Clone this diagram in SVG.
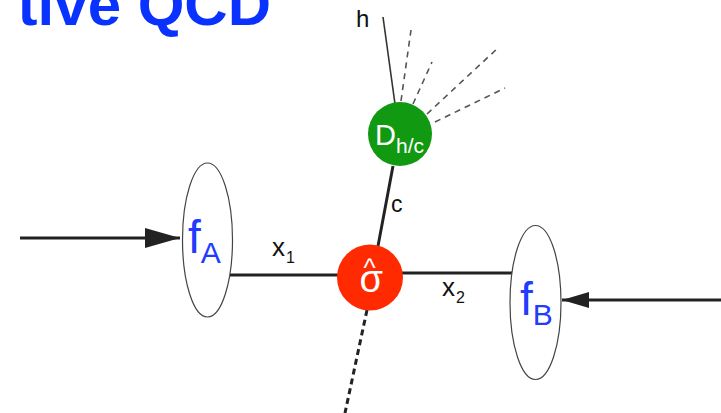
<svg xmlns="http://www.w3.org/2000/svg" width="721" height="413" viewBox="0 0 721 413">
<style>
.t{font-family:"Liberation Sans",Arial,sans-serif}
.lbl{fill:#111}
.pdf{fill:#1f3cff}
.ell{fill:#fff;stroke:#444;stroke-width:1.2}
.prop{stroke:#222;stroke-width:3;fill:none}
.frag{stroke:#555;stroke-width:1.6;stroke-dasharray:6 5;fill:none}
</style>
<defs>
<marker id="ahL" markerUnits="userSpaceOnUse" markerWidth="36" markerHeight="20" refX="35" refY="10" orient="auto"><path d="M0,0 L35,10 L0,20 z" fill="#222"/></marker>
<marker id="ahR" markerUnits="userSpaceOnUse" markerWidth="28" markerHeight="16" refX="27" refY="8" orient="auto"><path d="M0,0 L27,8 L0,16 z" fill="#222"/></marker>
</defs>
<rect width="721" height="413" fill="#fff"/>
<text class="t" x="271" y="25" text-anchor="end" font-size="60" font-weight="bold" fill="#0a32ff">tive QCD</text>

<g id="connectors">
<line class="prop" x1="20" y1="238" x2="180" y2="238" stroke-width="4" marker-end="url(#ahL)"/>
<line class="prop" x1="721" y1="300" x2="562" y2="300" stroke-width="4" marker-end="url(#ahR)"/>
<line class="prop" x1="229" y1="275" x2="338" y2="275"/>
<line class="prop" x1="402" y1="273" x2="512" y2="273"/>
<line class="prop" x1="378" y1="246" x2="393" y2="166" stroke-width="2.5"/>
<line class="prop" x1="367" y1="310" x2="345" y2="413" stroke-dasharray="6 4"/>
<line x1="383" y1="17" x2="395" y2="104" stroke="#333" stroke-width="1.6"/>
<line class="frag" x1="401" y1="101" x2="411" y2="30"/>
<line class="frag" x1="413" y1="104" x2="432" y2="62"/>
<line class="frag" x1="427" y1="114" x2="499" y2="47"/>
<line class="frag" x1="435" y1="122" x2="505" y2="88"/>
<text class="t lbl" x="272" y="256" font-size="26">x<tspan font-size="16" dx="1" dy="7">1</tspan></text>
<text class="t lbl" x="442" y="296" font-size="26">x<tspan font-size="16" dx="1" dy="7">2</tspan></text>
<text class="t lbl" x="391" y="212" font-size="23">c</text>
<text class="t lbl" x="356" y="27" font-size="24">h</text>
</g>

<g id="fA">
<ellipse class="ell" cx="207.5" cy="240" rx="25" ry="77"/>
<text class="t pdf" x="188" y="253" font-size="46">f<tspan font-size="30" dx="0" dy="10">A</tspan></text>
</g>

<g id="fB">
<ellipse class="ell" cx="535.5" cy="302.5" rx="25.5" ry="77"/>
<text class="t pdf" x="520" y="315" font-size="46">f<tspan font-size="30" dx="0" dy="10">B</tspan></text>
</g>

<g id="sigma">
<circle cx="370" cy="277.5" r="33" fill="#ff2a00"/>
<text class="t" x="359.5" y="292" font-size="38" fill="#fff">σ<tspan font-size="26" x="363.5" dy="-15">^</tspan></text>
</g>

<g id="Dhc">
<circle cx="400" cy="134" r="32" fill="#119911"/>
<text class="t" x="375" y="145" font-size="29" fill="#fff">D<tspan font-size="21" dy="8">h/c</tspan></text>
</g>
</svg>
